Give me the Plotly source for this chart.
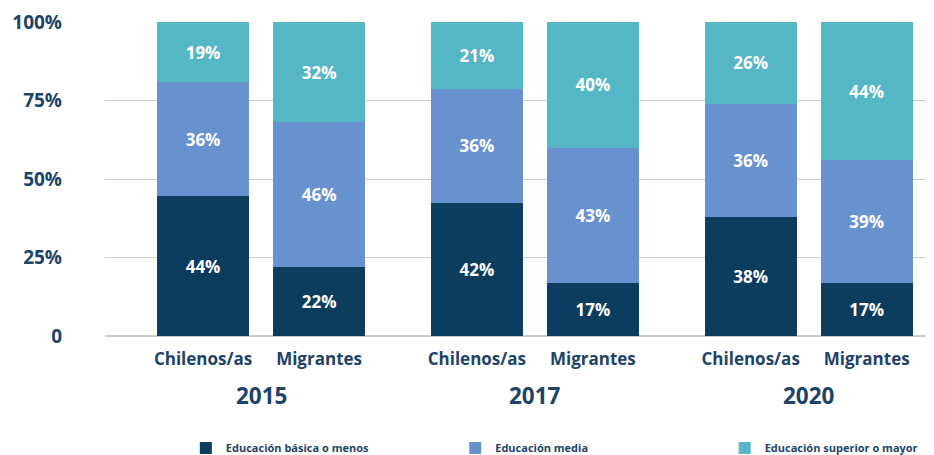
import plotly.graph_objects as go

years = ["2015", "2017", "2020"]
groups = ["Chilenos/as", "Migrantes"]
series_names = ["Educación básica o menos", "Educación media", "Educación superior o mayor"]
basica = [44, 22, 42, 17, 38, 17]
media = [36, 46, 36, 43, 36, 39]
superior = [19, 32, 21, 40, 26, 44]
y_tickvals = [0, 25, 50, 75, 100]
y_ticktext = ["0", "25%", "50%", "75%", "100%"]

colors = ["#0c3c5e", "#6892cf", "#55b6c5"]
navy = "#1d4466"
FONT = "Open Sans"

GROUP_STEP = 2.36
xpos = []
xlabels = []
for gi, yr in enumerate(years):
    for mi, g in enumerate(groups):
        xpos.append(gi * GROUP_STEP + mi)
        xlabels.append(g)

legend_ids = ["legend", "legend2", "legend3"]
legend_x = [0.0975, 0.4225, 0.7475]

fig = go.Figure()
for name, vals, col, lid in zip(series_names, [basica, media, superior], colors, legend_ids):
    fig.add_trace(go.Bar(
        x=xpos, y=vals, name=name, marker=dict(color=col, line=dict(width=0)),
        width=0.79, legend=lid,
        text=[f"{v}%" for v in vals],
        textposition="inside", insidetextanchor="middle", textangle=0,
        constraintext="none",
        textfont=dict(family=FONT, size=17, color="white", weight="bold"),
        hoverinfo="skip",
    ))

for gi, yr in enumerate(years):
    fig.add_annotation(
        x=gi * GROUP_STEP + 0.5, y=-0.19, xref="x", yref="paper",
        text=f"<b>{yr}</b>", showarrow=False, yanchor="middle",
        font=dict(family=FONT, size=22.5, color=navy),
    )

legend_common = dict(
    orientation="h", xanchor="left", y=-0.357, yanchor="middle",
    font=dict(family=FONT, size=11, color=navy, weight="bold"),
    itemclick=False, bgcolor="rgba(0,0,0,0)",
)

fig.update_layout(
    barmode="stack", barnorm="percent",
    width=926, height=447,
    margin=dict(l=97, r=0, t=14, b=119, autoexpand=False),
    plot_bgcolor="white", paper_bgcolor="white",
    font=dict(family=FONT, color=navy),
    showlegend=True,
    legend=dict(x=legend_x[0], **legend_common),
    legend2=dict(x=legend_x[1], **legend_common),
    legend3=dict(x=legend_x[2], **legend_common),
    xaxis=dict(
        range=[-0.845, 6.30], tickvals=xpos, ticktext=xlabels,
        tickfont=dict(family=FONT, size=17, color=navy, weight="bold"),
        showgrid=False, zeroline=False, showline=False, ticks="",
        ticklabelstandoff=11, automargin=False,
    ),
    yaxis=dict(
        range=[0, 100], tickvals=y_tickvals, ticktext=y_ticktext,
        tickfont=dict(family=FONT, size=19, color=navy, weight="bold"),
        showgrid=True, gridcolor="#cccccc", gridwidth=1,
        zeroline=True, zerolinecolor="#cccccc", showline=False, ticks="",
        ticklabelstandoff=42, automargin=False,
    ),
)

fig.write_html("out.html")
